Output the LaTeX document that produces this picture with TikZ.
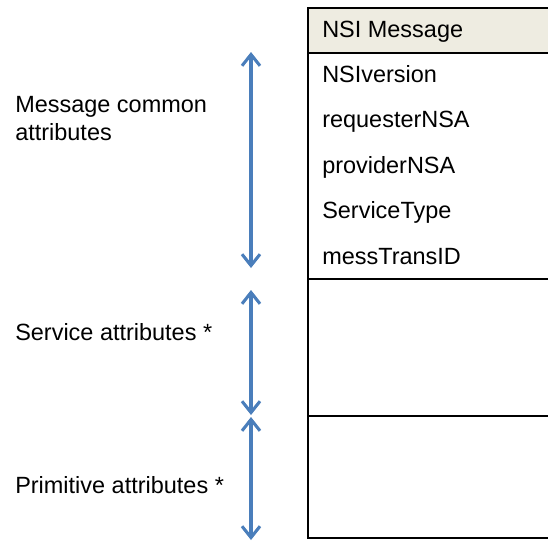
\documentclass[tikz,border=0pt]{standalone}
\usepackage{fontspec}
\setmainfont{Liberation Sans}
\usetikzlibrary{arrows.meta}
\definecolor{headfill}{RGB}{238,236,225}
\definecolor{arrowblue}{RGB}{74,126,187}
\tikzset{
  block/.style={draw, line width=1.6pt, anchor=north west, minimum width=183.75pt, inner sep=0pt},
  field/.style={anchor=base west, inner sep=0pt, align=left, font=\fontsize{17.6}{21}\selectfont},
  spanarrow/.style={arrowblue, line width=2.3pt, {Straight Barb[length=8.5pt,width=13.5pt]}-{Straight Barb[length=8.5pt,width=13.5pt]}}
}
\begin{document}
\begin{tikzpicture}[x=0.75pt,y=-0.75pt]
\useasboundingbox (0,0) rectangle (548,540);

% Message header
\node[block, fill=headfill, minimum height=33.75pt] (head) at (307,7) {};
\node[field] (headtext) at (322,37) {NSI Message};

% Common attributes
\node[block, minimum height=169.5pt] (common) at (307,52) {};
\node[field] (version) at (322,82) {NSIversion};
\node[field] (requester) at (322,127.5) {requesterNSA};
\node[field] (provider) at (322,173) {providerNSA};
\node[field] (stype) at (322,218.5) {ServiceType};
\node[field] (transid) at (322,264) {messTransID};

% Service and primitive blocks
\node[block, minimum height=102.75pt] (service) at (307,278) {};
\node[block, minimum height=91.5pt] (primitive) at (307,415) {};

% Left labels
\node[field] (commonlabel) at (15,140) {Message common\\attributes};
\node[field] (servicelabel) at (15,340) {Service attributes *};
\node[field] (primlabel) at (15,493) {Primitive attributes *};

% Span arrows
\coordinate (commontop) at (251,52);
\coordinate (commonbot) at (251,268);
\coordinate (servicetop) at (251,290);
\coordinate (servicebot) at (251,415);
\coordinate (primtop) at (251,417);
\coordinate (primbot) at (251,540);
\draw[spanarrow] (commontop) -- (commonbot);
\draw[spanarrow] (servicetop) -- (servicebot);
\draw[spanarrow] (primtop) -- (primbot);
\end{tikzpicture}
\end{document}
